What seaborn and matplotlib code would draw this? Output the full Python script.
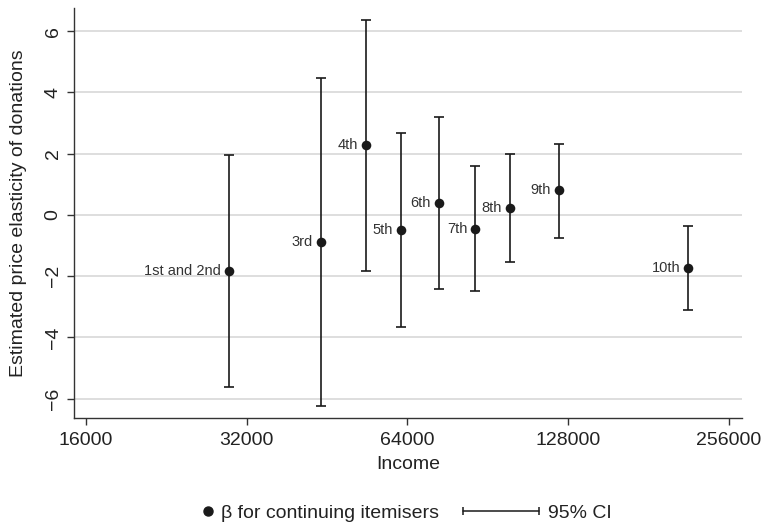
import numpy as np
import pandas as pd
import matplotlib
matplotlib.use("Agg")
import matplotlib.pyplot as plt
import seaborn as sns
from matplotlib.lines import Line2D
from matplotlib.legend_handler import HandlerLine2D

# Deciles: income position, point estimate and 95% CI bounds
labels = ["1st and 2nd", "3rd", "4th", "5th", "6th", "7th", "8th", "9th", "10th"]
income = [29630, 44000, 53490, 62130, 73180, 85590, 99520, 122900, 214600]
beta = [-1.83, -0.89, 2.27, -0.49, 0.39, -0.45, 0.22, 0.81, -1.72]
ci_low = [-5.62, -6.24, -1.83, -3.65, -2.42, -2.49, -1.55, -0.74, -3.10]
ci_high = [1.96, 4.48, 6.36, 2.66, 3.20, 1.61, 1.99, 2.33, -0.35]
xticks = [16000, 32000, 64000, 128000, 256000]
yticks = [-6, -4, -2, 0, 2, 4, 6]

df = pd.DataFrame({"income": income, "beta": beta, "lo": ci_low, "hi": ci_high, "label": labels})

sns.set_theme(style="white")
plt.rcParams["font.family"] = ["Liberation Sans", "DejaVu Sans"]

fig, ax = plt.subplots(figsize=(7.63, 5.25), dpi=100)
fig.subplots_adjust(left=0.097, right=0.972, top=0.985, bottom=0.204)

ink = "#1a1a1a"

#CI bars
ax.errorbar(df["income"], df["beta"],
            yerr=[df["beta"] - df["lo"], df["hi"] - df["beta"]],
            fmt="none", ecolor=ink, elinewidth=1.2, capsize=3.3, capthick=1.2, zorder=2)

#Point estimates
sns.scatterplot(data=df, x="income", y="beta", ax=ax, color=ink, s=48,
                edgecolor=ink, linewidth=0, zorder=3, legend=False)

for _, r in df.iterrows():
    ax.annotate(r["label"], (r["income"], r["beta"]), xytext=(-5.5, 0),
                textcoords="offset points", ha="right", va="center",
                fontsize=10.5, color="#333333")

ax.set_xscale("log", base=2)
ax.set_xlim(15195, 270500)
ax.set_ylim(-6.63, 6.76)
ax.set_xticks(xticks)
ax.set_xticklabels([str(t) for t in xticks])
ax.minorticks_off()
ax.set_yticks(yticks)
ax.set_yticklabels([f"{t}".replace("-", "\u2212") for t in yticks], rotation=90, va="center")

ax.yaxis.grid(True, color="#d4d4d4", linewidth=1.1)
ax.xaxis.grid(False)
ax.set_axisbelow(True)

for side in ["top", "right"]:
    ax.spines[side].set_visible(False)
for side in ["left", "bottom"]:
    ax.spines[side].set_color("#333333")
    ax.spines[side].set_linewidth(1.0)

ax.tick_params(axis="both", which="major", direction="out", length=5, width=1,
               color="#333333", labelsize=14, labelcolor="#222222", bottom=True, left=True)
ax.tick_params(axis="x", pad=5)
ax.tick_params(axis="y", pad=4)

ax.set_xlabel("Income", fontsize=14, color="#222222", labelpad=5)
ax.set_ylabel("Estimated price elasticity of donations", fontsize=14, color="#222222", labelpad=12.5)


#Legend: dot sits at right end of its handle box
class RightDot(HandlerLine2D):
    def get_xdata(self, legend, xdescent, ydescent, width, height, fontsize):
        x = -xdescent + width - 0.2 * fontsize
        return [x, x], [x]


pt = Line2D([0], [0], linestyle="none", marker="o", markersize=6.5, color=ink)
ci = Line2D([0], [0], color=ink, linewidth=1.1, marker="|", markersize=6, markeredgewidth=1.1)
fig.legend([pt, ci], ["\u03b2 for continuing itemisers", "95% CI"],
           handler_map={pt: RightDot(numpoints=1), ci: HandlerLine2D(numpoints=2, marker_pad=0)},
           loc="center right", bbox_to_anchor=(621 / 763, 1 - 513 / 525), ncol=2, frameon=False,
           fontsize=14, handlelength=3.9, columnspacing=1.24, handletextpad=0.45,
           borderpad=0, labelcolor="#222222")

fig.savefig("out.png", dpi=100)
